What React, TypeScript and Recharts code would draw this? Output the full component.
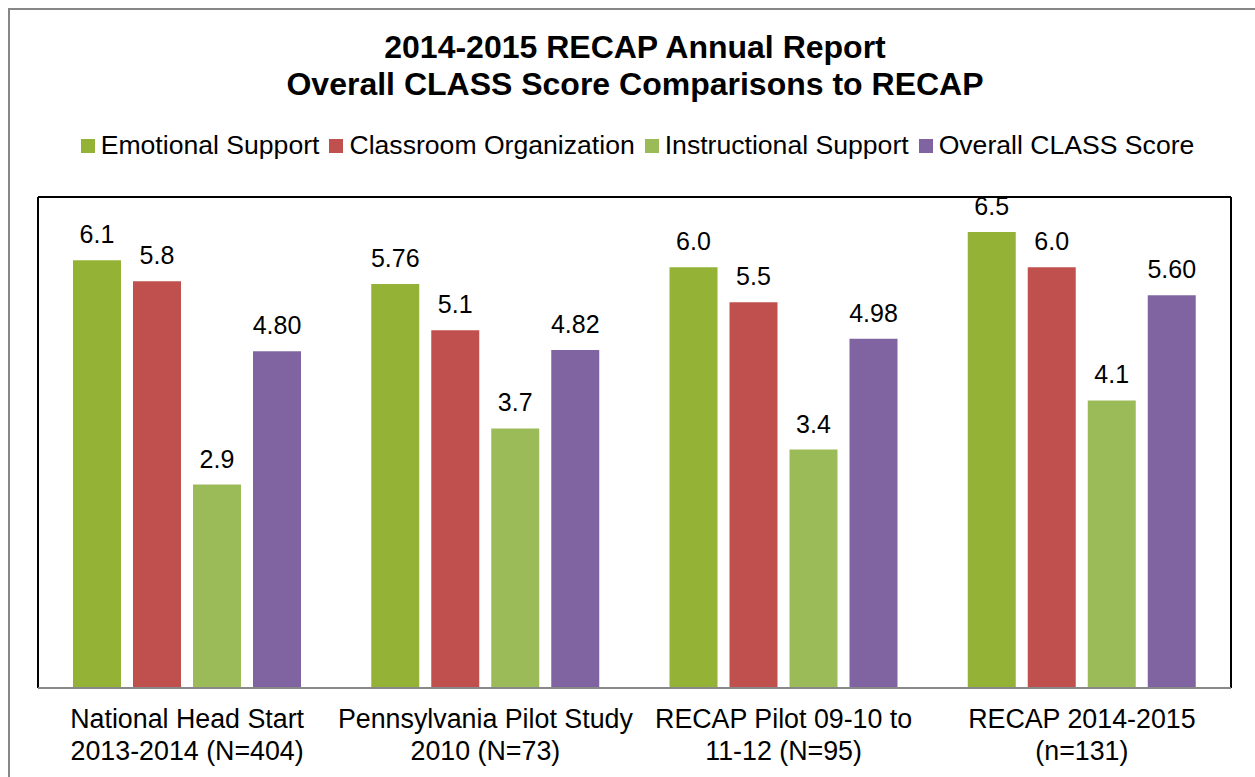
import { BarChart, Bar, XAxis, YAxis, Legend, LabelList, ReferenceLine } from "recharts";

const categoryLine1 = ["National Head Start", "Pennsylvania Pilot Study", "RECAP Pilot 09-10 to", "RECAP 2014-2015"];
const categoryLine2 = ["2013-2014 (N=404)", "2010 (N=73)", "11-12 (N=95)", "(n=131)"];

const emotional = ["6.1", "5.76", "6.0", "6.5"];
const organization = ["5.8", "5.1", "5.5", "6.0"];
const instructional = ["2.9", "3.7", "3.4", "4.1"];
const overall = ["4.80", "4.82", "4.98", "5.60"];

const seriesNames = ["Emotional Support", "Classroom Organization", "Instructional Support", "Overall CLASS Score"];
const seriesKeys = ["es", "co", "is", "ov"];
const seriesColors = ["#93B236", "#C0504D", "#9BBB59", "#8064A2"];

const data = categoryLine1.map((c, i) => ({
  name: c,
  es: parseFloat(emotional[i]),
  co: parseFloat(organization[i]),
  is: parseFloat(instructional[i]),
  ov: parseFloat(overall[i]),
  esL: emotional[i],
  coL: organization[i],
  isL: instructional[i],
  ovL: overall[i],
}));

const font = "'Liberation Sans', Arial, sans-serif";

function CategoryTick({ x, y, payload, index }: any) {
  return (
    <g>
      <text x={x} y={y + 32} textAnchor="middle" fontSize={26.8} fill="#000" fontFamily={font}>
        {payload.value}
      </text>
      <text x={x} y={y + 64} textAnchor="middle" fontSize={26.8} fill="#000" fontFamily={font}>
        {categoryLine2[index]}
      </text>
    </g>
  );
}

function LegendRow() {
  return (
    <div style={{ display: "flex", justifyContent: "center", fontFamily: font, fontSize: 26.6, color: "#000" }}>
      {seriesNames.map((n, i) => (
        <div key={n} style={{ display: "flex", alignItems: "center", marginRight: i < seriesNames.length - 1 ? 10 : 0 }}>
          <span style={{ width: 14, height: 14, background: seriesColors[i], display: "inline-block", marginRight: 6 }} />
          <span>{n}</span>
        </div>
      ))}
    </div>
  );
}

export default function App() {
  return (
    <div style={{ position: "absolute", left: 0, top: 0, width: 1255, height: 777, overflow: "hidden", background: "#fff" }}>
      <div
        style={{
          position: "absolute",
          left: 8,
          top: 8,
          width: 1260,
          height: 780,
          borderLeft: "2px solid #878787",
          borderTop: "2px solid #878787",
        }}
      />
      <div
        style={{
          position: "absolute",
          left: 0,
          top: 29,
          width: 1270,
          textAlign: "center",
          fontFamily: font,
          fontWeight: "bold",
          fontSize: 32,
          lineHeight: "37px",
          color: "#000",
        }}
      >
        <div>2014-2015 RECAP Annual Report</div>
        <div>Overall CLASS Score Comparisons to RECAP</div>
      </div>
      <div style={{ position: "absolute", left: 0, top: 0 }}>
        <BarChart
          width={1255}
          height={777}
          data={data}
          margin={{ top: 197, right: 24, left: 38, bottom: 0 }}
          barSize={48}
          barGap={12}
        >
          <XAxis
            dataKey="name"
            height={89}
            tickLine={false}
            axisLine={{ stroke: "#888", strokeWidth: 2 }}
            tick={<CategoryTick />}
            interval={0}
          />
          <YAxis domain={[0, 7]} hide />
          <ReferenceLine y={7} stroke="#000" strokeWidth={2} />
          <ReferenceLine x={categoryLine1[0]} position="start" stroke="#000" strokeWidth={2} />
          <ReferenceLine x={categoryLine1[categoryLine1.length - 1]} position="end" stroke="#000" strokeWidth={2} />
          <Legend
            layout="horizontal"
            verticalAlign="middle"
            align="center"
            content={<LegendRow />}
            wrapperStyle={{ top: 130, left: 5, width: 1265 }}
          />
          {seriesKeys.map((k, i) => (
            <Bar key={k} dataKey={k} name={seriesNames[i]} fill={seriesColors[i]} isAnimationActive={false}>
              <LabelList dataKey={k + "L"} position="top" offset={17} fontSize={25} fill="#000" fontFamily={font} />
            </Bar>
          ))}
        </BarChart>
      </div>
    </div>
  );
}
